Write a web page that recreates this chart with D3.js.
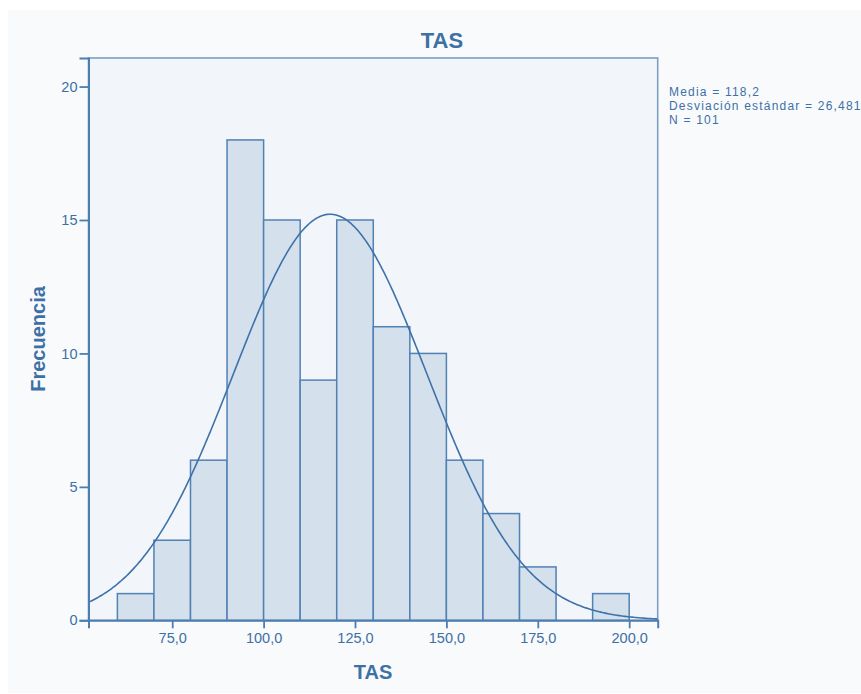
<!DOCTYPE html>
<html>
<head>
<meta charset="utf-8">
<script src="https://cdn.jsdelivr.net/npm/d3@7"></script>
<style>
  html, body { margin: 0; padding: 0; background: #ffffff; }
  svg { display: block; }
  text { font-family: "Liberation Sans", Arial, sans-serif; }
</style>
</head>
<body>
<svg id="chart" width="861" height="694"></svg>
<script>
// Histogram of TAS: bin edges (width 10) and frequency per bin
const binStarts = [60, 70, 80, 90, 100, 110, 120, 130, 140, 150, 160, 170, 180, 190];
const binWidth = 10;
const frequencies = [1, 3, 6, 18, 15, 9, 15, 11, 10, 6, 4, 2, 0, 1];

// Summary statistics for the fitted normal curve
const mean = 118.2;
const stdDev = 26.481;
const nObs = 101;

// Axis ticks
const xTicks = [75, 100, 125, 150, 175, 200];
const yTicks = [0, 5, 10, 15, 20];

const statLines = ["Media = 118,2", "Desviación estándar = 26,481", "N = 101"];

const colText = "#3d70a5";
const colAxis = "#4d7eb0";
const colFrame = "#7d9ec3";
const colBarFill = "#d4e0ec";
const colBarStroke = "#5082b4";
const colCurve = "#3e72a8";

const svg = d3.select("#chart");

// Outer panel and plot area
svg.append("rect").attr("x", 8).attr("y", 10).attr("width", 861).attr("height", 683)
  .attr("fill", "#f9fafc");

const plot = { left: 88.5, top: 58, right: 657.7, bottom: 620.3 };

const x = d3.scaleLinear().domain([52.1, 207.8]).range([plot.left, plot.right]);
const y = d3.scaleLinear().domain([0, 21.07]).range([plot.bottom, plot.top]);

svg.append("rect")
  .attr("x", plot.left).attr("y", plot.top)
  .attr("width", plot.right - plot.left).attr("height", plot.bottom - plot.top)
  .attr("fill", "#f2f5fa").attr("stroke", colFrame).attr("stroke-width", 1.6);

// Bars
const bins = binStarts.map((s, i) => ({ x0: s, x1: s + binWidth, count: frequencies[i] }));
svg.append("g").selectAll("rect").data(bins.filter(d => d.count > 0)).join("rect")
  .attr("x", d => x(d.x0))
  .attr("y", d => y(d.count))
  .attr("width", d => x(d.x1) - x(d.x0))
  .attr("height", d => y(0) - y(d.count))
  .attr("fill", colBarFill)
  .attr("stroke", colBarStroke)
  .attr("stroke-width", 1.5);

// Normal curve scaled to counts
const scaleK = nObs * binWidth / (stdDev * Math.sqrt(2 * Math.PI));
const [dx0, dx1] = x.domain();
const curvePts = d3.range(0, 401).map(i => {
  const v = dx0 + (dx1 - dx0) * i / 400;
  const z = (v - mean) / stdDev;
  return [v, scaleK * Math.exp(-0.5 * z * z)];
});
svg.append("path").datum(curvePts)
  .attr("fill", "none").attr("stroke", colCurve).attr("stroke-width", 1.6)
  .attr("d", d3.line().x(d => x(d[0])).y(d => y(d[1])));

// Axes
const fmt = d => d3.format(".1f")(d).replace(".", ",");
const xAxis = svg.append("g").attr("transform", `translate(0,${plot.bottom})`)
  .call(d3.axisBottom(x).tickValues(xTicks).tickFormat(fmt).tickSizeOuter(0).tickSize(8).tickPadding(4));
const yAxis = svg.append("g").attr("transform", `translate(${plot.left},0)`)
  .call(d3.axisLeft(y).tickValues(yTicks).tickFormat(d3.format("d")).tickSizeOuter(0).tickSize(9).tickPadding(2));

[xAxis, yAxis].forEach(g => {
  g.select(".domain").attr("stroke", colAxis).attr("stroke-width", 2);
  g.selectAll(".tick line").attr("stroke", colAxis).attr("stroke-width", 1.8);
  g.selectAll(".tick text").attr("fill", colText)
    .style("font-family", '"Liberation Sans", Arial, sans-serif').style("font-size", "14.5px");
});

// Titles
svg.append("text").attr("x", 442).attr("y", 48).attr("text-anchor", "middle")
  .attr("fill", colText).style("font-size", "22px").style("font-weight", "bold").text("TAS");

svg.append("text").attr("x", (plot.left + plot.right) / 2).attr("y", 679).attr("text-anchor", "middle")
  .attr("fill", colText).style("font-size", "20px").style("font-weight", "bold").text("TAS");

svg.append("text").attr("transform", `translate(45,339) rotate(-90)`).attr("text-anchor", "middle")
  .attr("fill", colText).style("font-size", "20px").style("font-weight", "bold").text("Frecuencia");

// Summary statistics
const stats = svg.append("text").attr("x", 669).attr("y", 96)
  .attr("fill", colText).style("font-size", "12px").style("letter-spacing", "1.2px");
statLines.forEach((t, i) => {
  stats.append("tspan").attr("x", 669).attr("y", 96 + i * 14).text(t);
});
</script>
</body>
</html>
